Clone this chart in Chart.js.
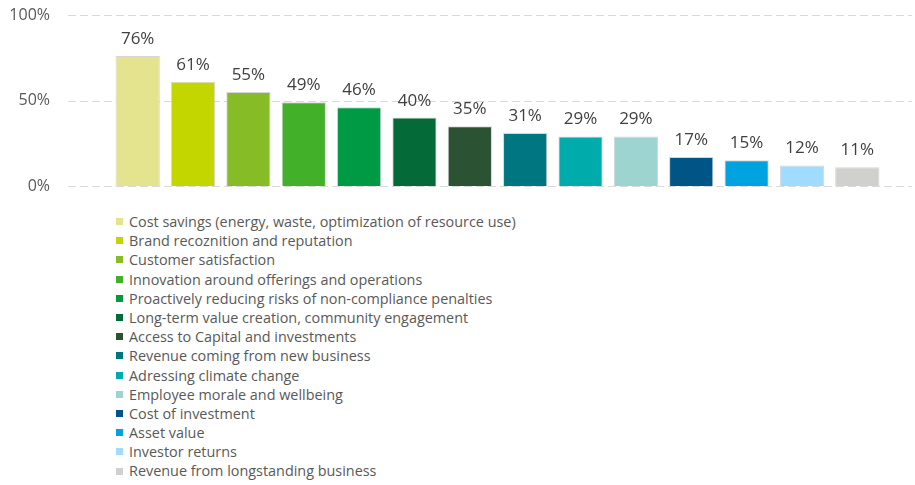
<!DOCTYPE html>
<html>
<head>
<meta charset="utf-8">
<script src="https://cdn.jsdelivr.net/npm/chart.js@4/dist/chart.umd.min.js"></script>
<style>
  body { margin: 0; background: #fff; font-family: "Open Sans", sans-serif; }
  #legend { list-style: none; margin: 0; padding: 0; position: absolute; left: 116px; top: 212px; }
  #legend li { height: 19.2px; line-height: 19.2px; font-size: 14.4px; color: #595959; display: flex; align-items: center; white-space: nowrap; }
  #legend span.box { width: 7px; height: 7px; margin-right: 6px; }
</style>
</head>
<body>
<canvas id="a" width="915" height="195"></canvas>
<ul id="legend"></ul>
<script>
const categories = [
  "Cost savings (energy, waste, optimization of resource use)",
  "Brand recoznition and reputation",
  "Customer satisfaction",
  "Innovation around offerings and operations",
  "Proactively reducing risks of non-compliance penalties",
  "Long-term value creation, community engagement",
  "Access to Capital and investments",
  "Revenue coming from new business",
  "Adressing climate change",
  "Employee morale and wellbeing",
  "Cost of investment",
  "Asset value",
  "Investor returns",
  "Revenue from longstanding business"
];
const values = [76, 61, 55, 49, 46, 40, 35, 31, 29, 29, 17, 15, 12, 11];
const colors = [
  "#E3E48D", "#C4D600", "#86BC25", "#43B02A", "#009A44", "#046A38", "#2C5234",
  "#007680", "#00ABAB", "#9DD4CF", "#005587", "#00A3E0", "#A0DCFF", "#D0D0CE"
];
const yTicks = [0, 50, 100];

// dashed gridlines that run past the plot area on both sides
const wideGrid = {
  id: "wideGrid",
  beforeDatasetsDraw(chart) {
    const { ctx } = chart;
    const y = chart.scales.y;
    ctx.save();
    ctx.strokeStyle = "#d9d9d9";
    ctx.lineWidth = 1;
    ctx.setLineDash([8, 4]);
    for (const t of yTicks) {
      const py = Math.round(y.getPixelForValue(t)) + 0.5;
      ctx.beginPath();
      ctx.moveTo(68, py);
      ctx.lineTo(chart.width - 3, py);
      ctx.stroke();
    }
    ctx.restore();
  }
};

// percentage over each bar
const barLabels = {
  id: "barLabels",
  afterDatasetsDraw(chart) {
    const { ctx } = chart;
    const meta = chart.getDatasetMeta(0);
    ctx.save();
    ctx.font = "17px 'Open Sans'";
    ctx.fillStyle = "#404040";
    ctx.textAlign = "center";
    ctx.textBaseline = "alphabetic";
    meta.data.forEach((bar, i) => {
      ctx.fillText(values[i] + "%", bar.x, bar.y - 12);
    });
    ctx.restore();
  }
};

const chart = new Chart(document.querySelector("#a"), {
  type: "bar",
  data: {
    labels: categories,
    datasets: [{
      data: values,
      backgroundColor: colors,
      borderColor: "rgba(210,210,210,0.9)",
      borderWidth: 1,
      barPercentage: 0.8,
      categoryPercentage: 1
    }]
  },
  options: {
    responsive: false,
    animation: false,
    layout: { padding: { top: 15, bottom: 9, right: 30, left: 0 } },
    plugins: { legend: { display: false }, tooltip: { enabled: false } },
    scales: {
      x: {
        ticks: { display: false },
        grid: { display: false },
        border: { display: false },
        afterFit(scale) { scale.height = 0; }
      },
      y: {
        min: 0,
        max: 100,
        afterFit(scale) {
          // wide gap between labels and first bar, without vertical padding
          scale.width = 110;
          scale.paddingTop = 0;
          scale.paddingBottom = 0;
        },
        afterBuildTicks(scale) { scale.ticks = yTicks.map(v => ({ value: v })); },
        ticks: {
          padding: 60,
          color: "#595959",
          font: { family: "Open Sans", size: 16 },
          callback: v => v + "%"
        },
        grid: { display: false, drawTicks: false },
        border: { display: false }
      }
    }
  },
  plugins: [wideGrid, barLabels]
});

const legend = document.querySelector("#legend");
categories.forEach((c, i) => {
  const li = document.createElement("li");
  li.innerHTML = '<span class="box" style="background:' + colors[i] + '"></span>' + c;
  legend.appendChild(li);
});
</script>
</body>
</html>
